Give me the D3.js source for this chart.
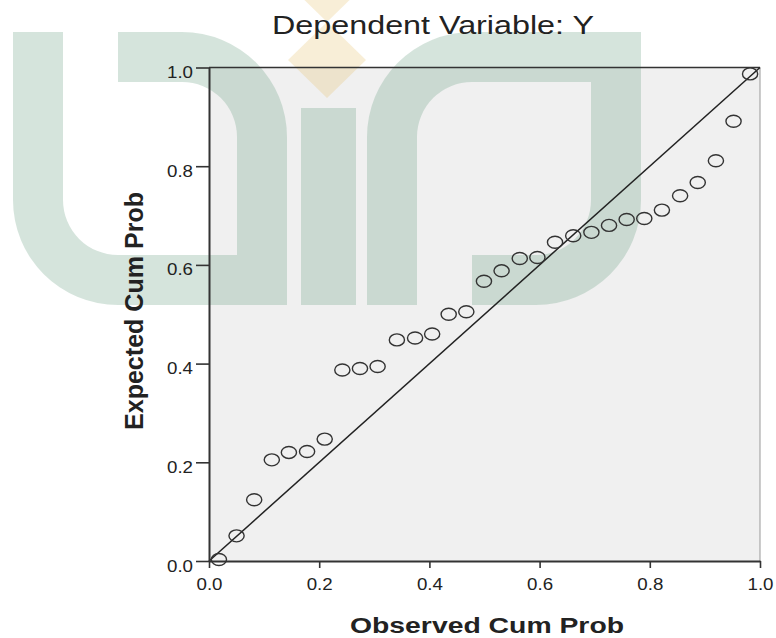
<!DOCTYPE html>
<html>
<head>
  <meta charset="utf-8">
  <script src="https://d3js.org/d3.v7.min.js"></script>
  <style>
    body { margin: 0; background: #fff; }
    svg { display: block; }
    text { font-family: "Liberation Sans", Arial, sans-serif; fill: #222; }
  </style>
</head>
<body>
  <script type="text/javascript">
    // observed vs expected cumulative probability
    var observed = [0.018, 0.050, 0.082, 0.114, 0.145, 0.178, 0.210, 0.242, 0.274, 0.306,
                    0.341, 0.374, 0.405, 0.435, 0.467, 0.499, 0.531, 0.564, 0.596, 0.628,
                    0.661, 0.694, 0.726, 0.758, 0.790, 0.822, 0.855, 0.887, 0.920, 0.952, 0.982];
    var expected = [0.003, 0.051, 0.124, 0.205, 0.220, 0.222, 0.247, 0.387, 0.390, 0.394,
                    0.448, 0.452, 0.460, 0.500, 0.505, 0.567, 0.588, 0.613, 0.615, 0.646,
                    0.659, 0.666, 0.680, 0.692, 0.694, 0.711, 0.740, 0.767, 0.811, 0.891, 0.987];
    var tickValues = [0, 0.2, 0.4, 0.6, 0.8, 1.0];
    var reference = [0, 1];

    var width = 776, height = 638;
    // note: "top" is a reserved window property, so use plot* names
    var plotL = 209, plotR = 760, plotT = 67.5, plotB = 561;

    var svg = d3.select("body").append("svg")
        .attr("width", width)
        .attr("height", height);

    var x = d3.scaleLinear().domain([0, 1]).range([plotL, plotR]);
    var y = d3.scaleLinear().domain([0, 1]).range([plotB, plotT]);

    /*
      plot background, then the faded logo watermark on top of it
    */
    svg.append("rect")
      .attr("x", plotL).attr("y", plotT)
      .attr("width", plotR - plotL).attr("height", plotB - plotT)
      .attr("fill", "#f0f0f0");

    var wm = svg.append("g");
    var glyph = "M13,32 L63,32 L63,200 A55,55 0 0 0 118,255 L237,255 L237,137 " +
                "A55,55 0 0 0 182,82 L118,82 L118,32 L182,32 A105,105 0 0 1 287,137 " +
                "L287,305 L118,305 A105,105 0 0 1 13,200 Z";
    wm.append("path").attr("d", glyph)
      .attr("fill", "rgb(115,165,138)").attr("fill-opacity", 0.3);
    wm.append("path").attr("d", glyph)
      .attr("transform", "translate(354,337) scale(1,-1)")
      .attr("fill", "rgb(115,165,138)").attr("fill-opacity", 0.3);
    wm.append("rect")
      .attr("x", 301).attr("y", 108).attr("width", 55).attr("height", 197)
      .attr("fill", "rgb(115,165,138)").attr("fill-opacity", 0.3);
    wm.append("path")
      .attr("d", "M327,-55 L366,-16 L327,22 L288,-16 Z M327,22 L366,60 L327,98 L288,60 Z")
      .attr("fill", "rgb(227,187,95)").attr("fill-opacity", 0.25);

    /*
      frame, axes, reference line and points
    */
    svg.append("line")
      .attr("x1", plotL).attr("x2", plotR).attr("y1", plotT).attr("y2", plotT)
      .attr("stroke", "#333").attr("stroke-width", 1.5);
    svg.append("line")
      .attr("x1", plotR).attr("x2", plotR).attr("y1", plotT).attr("y2", plotB)
      .attr("stroke", "#999").attr("stroke-width", 1);

    svg.append("line")
      .attr("x1", x(reference[0])).attr("y1", y(reference[0]))
      .attr("x2", x(reference[1])).attr("y2", y(reference[1]))
      .attr("stroke", "#222").attr("stroke-width", 1.5);

    svg.append("g").selectAll("ellipse")
      .data(observed)
      .enter().append("ellipse")
        .attr("cx", function(d) { return x(d); })
        .attr("cy", function(d, i) { return y(expected[i]); })
        .attr("rx", 7.6).attr("ry", 6)
        .attr("fill", "none")
        .attr("stroke", "#333").attr("stroke-width", 1.4);

    var fmt = d3.format(".1f");

    var yAxis = svg.append("g")
      .attr("transform", "translate(" + plotL + ",0)")
      .call(d3.axisLeft(y).tickValues(tickValues).tickFormat(fmt).tickSize(13).tickSizeOuter(0));
    var xAxis = svg.append("g")
      .attr("transform", "translate(0," + plotB + ")")
      .call(d3.axisBottom(x).tickValues(tickValues).tickFormat(fmt).tickSize(7).tickSizeOuter(0));

    [yAxis, xAxis].forEach(function(a) {
      a.select(".domain").attr("stroke", "#333").attr("stroke-width", 2);
      a.selectAll(".tick line").attr("stroke", "#333").attr("stroke-width", 1.6);
      a.selectAll(".tick text")
        .style("font-family", "'Liberation Sans', Arial, sans-serif")
        .style("font-size", "17px")
        .attr("fill", "#333")
        .attr("textLength", 26)
        .attr("lengthAdjust", "spacingAndGlyphs");
    });
    yAxis.selectAll(".tick text").attr("x", -16).attr("dy", "10");
    xAxis.selectAll(".tick text").attr("y", 29).attr("dy", 0);

    /*
      titles
    */
    svg.append("text")
      .attr("x", 433).attr("y", 34)
      .attr("text-anchor", "middle")
      .attr("textLength", 322).attr("lengthAdjust", "spacingAndGlyphs")
      .style("font-size", "25px")
      .text("Dependent Variable: Y");

    svg.append("text")
      .attr("x", 487).attr("y", 633)
      .attr("text-anchor", "middle")
      .attr("textLength", 274).attr("lengthAdjust", "spacingAndGlyphs")
      .style("font-size", "22px").style("font-weight", "bold")
      .text("Observed Cum Prob");

    svg.append("text")
      .attr("transform", "translate(143,311) rotate(-90)")
      .attr("text-anchor", "middle")
      .attr("textLength", 238).attr("lengthAdjust", "spacingAndGlyphs")
      .style("font-size", "26px").style("font-weight", "bold")
      .text("Expected Cum Prob");
  </script>
</body>
</html>
